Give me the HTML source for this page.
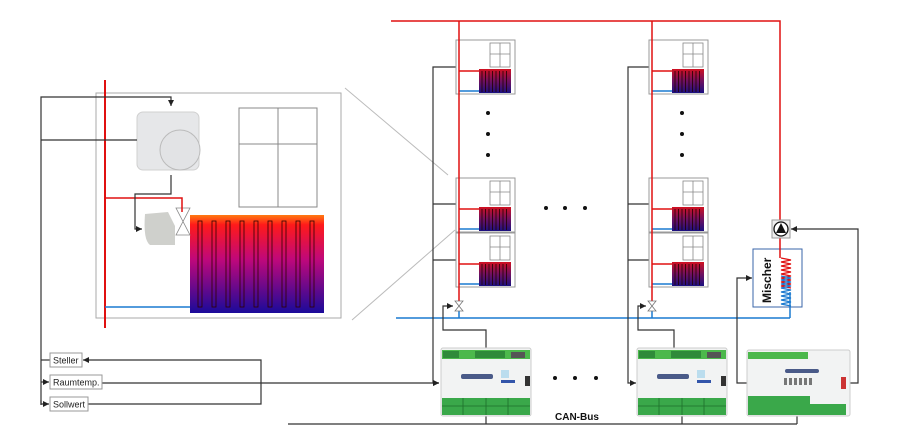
<!DOCTYPE html>
<html><head><meta charset="utf-8"><style>
html,body{margin:0;padding:0;background:#fff;}
svg{display:block;font-family:"Liberation Sans",sans-serif;}
</style></head><body>
<svg width="900" height="446" viewBox="0 0 900 446" xmlns="http://www.w3.org/2000/svg">
<defs>
<linearGradient id="rg" x1="0" y1="0" x2="0" y2="1">
<stop offset="0" stop-color="#ff7a10"/><stop offset="0.1" stop-color="#ff1a1a"/><stop offset="0.45" stop-color="#c0087a"/><stop offset="1" stop-color="#1a0a9a"/>
</linearGradient>
<linearGradient id="rg2" x1="0" y1="0" x2="0" y2="1">
<stop offset="0" stop-color="#d01020"/><stop offset="0.5" stop-color="#701060"/><stop offset="1" stop-color="#1a1080"/>
</linearGradient>
<marker id="ar" markerWidth="6" markerHeight="6" refX="5" refY="3" orient="auto"><path d="M0,0.5 L5,3 L0,5.5z" fill="#222"/></marker>
<g id="room">
<rect x="0" y="0" width="59" height="54" fill="#fff" stroke="#999" stroke-width="1"/>
<rect x="34" y="3" width="20" height="24" fill="#fff" stroke="#888" stroke-width="0.8"/>
<line x1="44" y1="3" x2="44" y2="27" stroke="#888" stroke-width="0.8"/>
<line x1="34" y1="14" x2="54" y2="14" stroke="#888" stroke-width="0.8"/>
<rect x="23" y="29" width="32" height="24" fill="url(#rg2)"/>
<g stroke="#200" stroke-width="0.8">
<line x1="26" y1="31" x2="26" y2="52"/><line x1="29.5" y1="31" x2="29.5" y2="52"/><line x1="33" y1="31" x2="33" y2="52"/><line x1="36.5" y1="31" x2="36.5" y2="52"/><line x1="40" y1="31" x2="40" y2="52"/><line x1="43.5" y1="31" x2="43.5" y2="52"/><line x1="47" y1="31" x2="47" y2="52"/><line x1="50.5" y1="31" x2="50.5" y2="52"/></g>
<line x1="3" y1="31" x2="23" y2="31" stroke="#e01010" stroke-width="1.5"/>
<line x1="3" y1="51" x2="23" y2="51" stroke="#1a7ad0" stroke-width="1.5"/>
</g>
<g id="mod">
<rect x="0" y="0" width="90" height="68" rx="2" fill="#f2f3f3" stroke="#ccc"/>
<rect x="1" y="2" width="88" height="9" fill="#4cb84c"/>
<rect x="2" y="3" width="16" height="7" fill="#2f8a3a"/><rect x="34" y="3" width="30" height="7" fill="#2f8a3a"/>
<rect x="70" y="4" width="14" height="6" fill="#555"/>
<rect x="20" y="26" width="32" height="5" rx="2" fill="#4a5a88"/>
<rect x="60" y="22" width="8" height="8" fill="#bde"/>
<rect x="60" y="32" width="14" height="3" fill="#3355aa"/>
<rect x="84" y="28" width="5" height="10" fill="#333"/>
<rect x="1" y="50" width="88" height="17" fill="#3aa84a"/>
<g stroke="#1e6e2a" stroke-width="0.8"><line x1="1" y1="58" x2="89" y2="58"/><line x1="22" y1="50" x2="22" y2="67"/><line x1="45" y1="50" x2="45" y2="67"/><line x1="67" y1="50" x2="67" y2="67"/></g>
</g>
</defs>

<!-- left panel -->
<rect x="96" y="93" width="245" height="225" fill="#fff" stroke="#aaa" stroke-width="1"/>
<line x1="345" y1="88" x2="448" y2="175" stroke="#bbb" stroke-width="1"/>
<line x1="352" y1="320" x2="455" y2="230" stroke="#bbb" stroke-width="1"/>
<rect x="239" y="108" width="78" height="99" fill="#fff" stroke="#888" stroke-width="1"/>
<line x1="278" y1="108" x2="278" y2="207" stroke="#888"/>
<line x1="239" y1="144" x2="317" y2="144" stroke="#888"/>
<rect x="137" y="112" width="62" height="58" rx="6" fill="#e6e7e9" stroke="#d0d0d0"/>
<circle cx="180" cy="150" r="20" fill="#e2e3e5" stroke="#bbb"/>
<rect x="190" y="215" width="134" height="98" fill="url(#rg)"/>
<g fill="none" stroke="#300" stroke-width="0.8">
<rect x="198" y="221" width="4" height="86"/><rect x="212" y="221" width="4" height="86"/><rect x="226" y="221" width="4" height="86"/><rect x="240" y="221" width="4" height="86"/><rect x="254" y="221" width="4" height="86"/><rect x="268" y="221" width="4" height="86"/><rect x="282" y="221" width="4" height="86"/><rect x="296" y="221" width="4" height="86"/><rect x="310" y="221" width="4" height="86"/></g>
<path d="M145,214 L168,212 L175,226 L175,245 L150,245 Q143,240 145,214z" fill="#cfd0cc"/>
<path d="M176,208 L190,208 L176,235 L190,235z" fill="#fff" stroke="#888" stroke-width="0.8"/>
<line x1="105" y1="80" x2="105" y2="328" stroke="#e01010" stroke-width="2"/>
<polyline points="105,198 182,198 182,212" fill="none" stroke="#e01010" stroke-width="1.5"/>
<line x1="105" y1="307" x2="190" y2="307" stroke="#1a7ad0" stroke-width="1.5"/>
<g fill="none" stroke="#333" stroke-width="1.2">
<polyline points="41,405 41,97 171,97 171,106" marker-end="url(#ar)"/>
<line x1="41" y1="140" x2="137" y2="140"/>
<polyline points="171,175 171,194 135,194 135,229 142,229" marker-end="url(#ar)"/>
<line x1="41" y1="360" x2="50" y2="360"/>
<line x1="41" y1="382" x2="49" y2="382" marker-end="url(#ar)"/>
<polyline points="41,400 41,404 49,404" marker-end="url(#ar)"/>
<polyline points="88,404 261,404 261,360 83,360" marker-end="url(#ar)"/>
<polyline points="102,383 439,383" marker-end="url(#ar)"/>
<line x1="288" y1="424" x2="797" y2="424"/>
</g>
<g font-size="9" fill="#222">
<rect x="50" y="353" width="32" height="14" fill="#fff" stroke="#999"/><text x="53" y="363.5">Steller</text>
<rect x="50" y="375" width="52" height="14" fill="#fff" stroke="#999"/><text x="53" y="385.5">Raumtemp.</text>
<rect x="50" y="397" width="38" height="14" fill="#fff" stroke="#999"/><text x="53" y="407.5">Sollwert</text>
</g>

<!-- right system -->
<polyline points="391,21 780,21 780,220" fill="none" stroke="#e01010" stroke-width="1.5"/>
<line x1="396" y1="318" x2="790" y2="318" stroke="#1a7ad0" stroke-width="1.5"/>
<g fill="none" stroke="#333" stroke-width="1.2">
<polyline points="456,67 433,67 433,383 439,383" marker-end="url(#ar)"/>
<line x1="433" y1="204" x2="456" y2="204"/><line x1="433" y1="260" x2="456" y2="260"/>
<polyline points="649,67 628,67 628,383 636,383" marker-end="url(#ar)"/>
<line x1="628" y1="204" x2="649" y2="204"/><line x1="628" y1="260" x2="649" y2="260"/>
<polyline points="486,348 486,330 443,330 443,306 453,306" marker-end="url(#ar)"/>
<polyline points="674,348 674,330 638,330 638,306 646,306" marker-end="url(#ar)"/>
<polyline points="850,383 858,383 858,229 791,229" marker-end="url(#ar)"/>
<polyline points="747,383 737,383 737,278 752,278" marker-end="url(#ar)"/>
<line x1="486" y1="415" x2="486" y2="424"/><line x1="682" y1="415" x2="682" y2="424"/><line x1="797" y1="416" x2="797" y2="424"/>
</g>
<use href="#room" x="456" y="40"/><use href="#room" x="456" y="178"/><use href="#room" x="456" y="233"/>
<use href="#room" x="649" y="40"/><use href="#room" x="649" y="178"/><use href="#room" x="649" y="233"/>
<line x1="459" y1="21" x2="459" y2="302" stroke="#e01010" stroke-width="1.5"/>
<line x1="652" y1="21" x2="652" y2="302" stroke="#e01010" stroke-width="1.5"/>
<line x1="459" y1="310" x2="459" y2="318" stroke="#1a7ad0" stroke-width="1.5"/>
<line x1="652" y1="310" x2="652" y2="318" stroke="#1a7ad0" stroke-width="1.5"/>
<path d="M455,301 L463,301 L455,311 L463,311z" fill="#fff" stroke="#777" stroke-width="0.8"/>
<path d="M648,301 L656,301 L648,311 L656,311z" fill="#fff" stroke="#777" stroke-width="0.8"/>
<g fill="#111">
<circle cx="488" cy="113" r="2"/><circle cx="488" cy="134" r="2"/><circle cx="488" cy="155" r="2"/>
<circle cx="682" cy="113" r="2"/><circle cx="682" cy="134" r="2"/><circle cx="682" cy="155" r="2"/>
<circle cx="546" cy="208" r="2"/><circle cx="565" cy="208" r="2"/><circle cx="585" cy="208" r="2"/>
<circle cx="555" cy="378" r="2"/><circle cx="575" cy="378" r="2"/><circle cx="596" cy="378" r="2"/>
</g>
<!-- pump & mixer -->
<rect x="753" y="249" width="49" height="58" fill="#fff" stroke="#3a66aa" stroke-width="1"/>
<text x="0" y="0" transform="translate(771,303) rotate(-90)" font-size="12" font-weight="bold" fill="#111">Mischer</text>
<line x1="780" y1="238" x2="780" y2="258" stroke="#e01010" stroke-width="1.5"/>
<path d="M781,258 l10,2 -10,2 10,2 -10,2 10,2 -10,2 10,2 -10,2 10,2 -10,2 10,2 -10,2 10,2 -10,2 10,2" fill="none" stroke="#e01010" stroke-width="1.2"/>
<path d="M781,276 l10,2 -10,2 10,2 -10,2 10,2 -10,2 10,2 -10,2 10,2 -10,2 10,2 -10,2 10,2 -10,2 10,2" fill="none" stroke="#1a7ad0" stroke-width="1.2"/>
<polyline points="790,292 790,318" fill="none" stroke="#1a7ad0" stroke-width="1.5"/>
<rect x="772" y="220" width="18" height="18" fill="#eee" stroke="#999"/>
<circle cx="781" cy="229" r="7" fill="#fff" stroke="#111" stroke-width="1.3"/>
<path d="M776,233 L781,223 L786,233z" fill="#111"/>
<use href="#mod" x="441" y="348"/><use href="#mod" x="637" y="348"/>
<g>
<rect x="747" y="350" width="103" height="66" rx="2" fill="#f2f3f3" stroke="#ccc"/>
<rect x="748" y="352" width="60" height="7" fill="#4cb84c"/>
<rect x="785" y="369" width="34" height="4" rx="2" fill="#4a5a88"/>
<g fill="#777"><rect x="784" y="378" width="3" height="7"/><rect x="789" y="378" width="3" height="7"/><rect x="794" y="378" width="3" height="7"/><rect x="799" y="378" width="3" height="7"/><rect x="804" y="378" width="3" height="7"/><rect x="809" y="378" width="3" height="7"/></g>
<rect x="841" y="377" width="5" height="12" fill="#c33"/>
<rect x="748" y="396" width="62" height="19" fill="#3aa84a"/>
<rect x="810" y="404" width="36" height="11" fill="#3aa84a"/>
</g>
<text x="555" y="420" font-size="10" font-weight="bold" fill="#111">CAN-Bus</text>
</svg>
</body></html>
